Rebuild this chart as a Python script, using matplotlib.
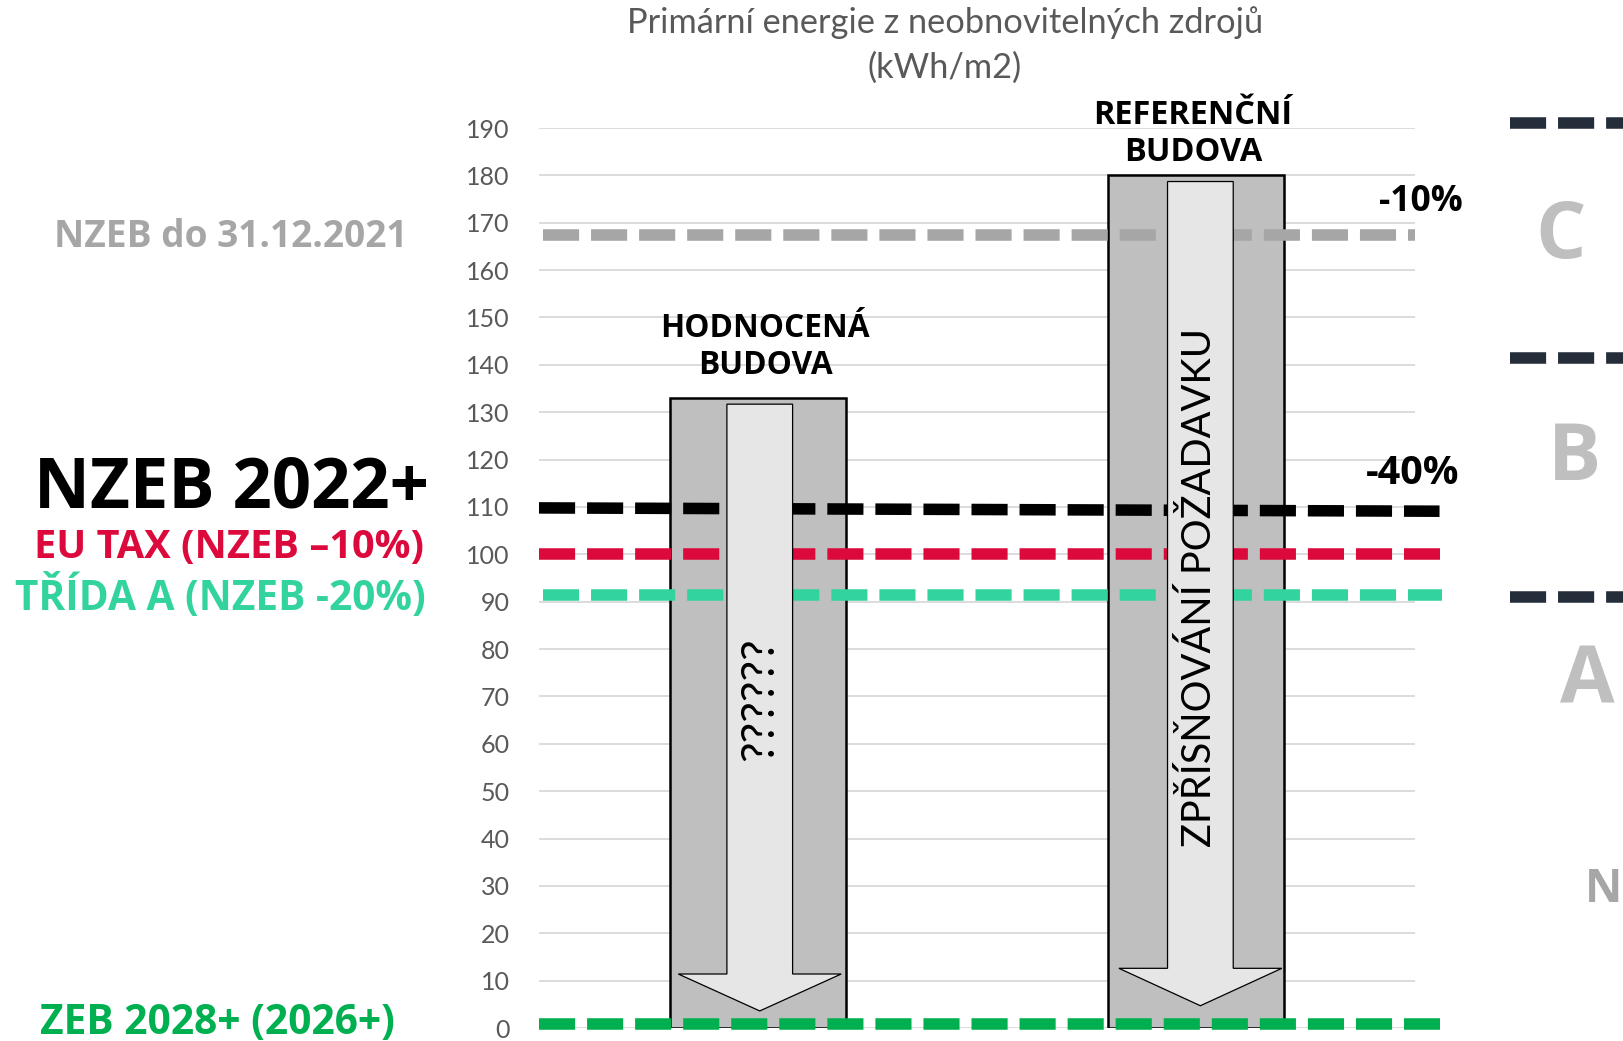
import matplotlib
matplotlib.use("Agg")
import matplotlib.pyplot as plt
from matplotlib.patches import Polygon

plt.rcParams['lines.scale_dashes'] = False

# values (kWh/m2)
budovy = ["HODNOCENÁ\nBUDOVA", "REFERENČNÍ\nBUDOVA"]
hodnoty = [133, 180]
yticks = list(range(0, 200, 10))

nzeb_2021 = 167.5
nzeb_2022 = [109.8, 109.1]   # the line is drawn slightly tilted
eu_tax = 100
trida_a = 91.5
zeb = 0.8
tridy = ["C", "B", "A"]
tridy_hranice = [191, 141.5, 91]

W, H = 1624, 1041
def px(x, y):
    return x / W, 1 - y / H

fig = plt.figure(figsize=(W / 100, H / 100), dpi=100)
ax = fig.add_axes([539 / W, 1 - 1028 / H, (1415 - 539) / W, (1028 - 128) / H])
ax.set_xlim(-0.5, 1.5)
ax.set_ylim(0, 190)
ax.set_yticks(yticks)
ax.set_xticks([])
for s in ax.spines.values():
    s.set_visible(False)
ax.tick_params(axis='y', length=0, pad=21, labelsize=18, labelcolor='#595959')
for lab in ax.get_yticklabels():
    lab.set_family('Lato')
ax.grid(axis='y', color='#d9d9d9', lw=1.3, zorder=0)
ax.set_axisbelow(True)

x = list(range(len(budovy)))
ax.bar(x, hodnoty, width=0.4, color='#bfbfbf', edgecolor='black', linewidth=1.8, zorder=2)

# limit lines
dash = (26, 8.6)
def hline(x0, x1, y, c):
    if not isinstance(y, list):
        y = [y, y]
    ax.plot([x0, x1], y, color=c, lw=8.3, dashes=dash, dash_capstyle='butt',
            clip_on=False, zorder=3)

hline(-0.49, 1.5, nzeb_2021, '#a6a6a6')
hline(-0.5, 1.556, nzeb_2022, '#000000')
hline(-0.5, 1.556, eu_tax, '#dc0a3c')
hline(-0.49, 1.562, trida_a, '#33d39f')
hline(-0.5, 1.556, zeb, '#00b050')
for y in tridy_hranice:
    hline(1.717, 2.05, y, '#252d3b')

# down arrows inside the bars
shaft, head = 0.075, 0.186
offs = [0.004, 0.01]
base = [11.4, 12.6]
tip = [3.6, 4.7]
for i, v in enumerate(hodnoty):
    c = x[i] + offs[i]
    top = v - 1.3
    pts = [(c - shaft, top), (c + shaft, top), (c + shaft, base[i]), (c + head, base[i]),
           (c, tip[i]), (c - head, base[i]), (c - shaft, base[i])]
    ax.add_patch(Polygon(pts, closed=True, fc='#e7e6e6', ec='black', lw=0.9, zorder=4))

fit = []
bold = dict(family='Open Sans', weight='bold')

t = ax.text(0.004, 69.4, "??????", rotation=90, ha='center', va='center',
            family='Lato', fontsize=30, color='black', zorder=5)
fit.append((t, 124))
t = ax.text(1.007, 93, "ZPŘÍSŇOVÁNÍ POŽADAVKU", rotation=90, ha='center', va='center',
            family='Lato', fontsize=30, color='black', zorder=5)
fit.append((t, 517))

t = ax.text(0.016, 143.8, budovy[0], ha='center', va='center', linespacing=1.15,
            fontsize=17, color='black', clip_on=False, **bold)
fit.append((t, 209))
t = ax.text(0.993, 188.8, budovy[1], ha='center', va='center', linespacing=1.15,
            fontsize=17, color='black', clip_on=False, **bold)
fit.append((t, 200))
t = ax.text(1.513, 174.4, "-10%", ha='center', va='center', fontsize=25,
            color='black', clip_on=False, **bold)
fit.append((t, 84))
t = ax.text(1.495, 117.0, "-40%", ha='center', va='center', fontsize=25,
            color='black', clip_on=False, **bold)
fit.append((t, 94))

# title
t1 = fig.text(*px(945, 23), "Primární energie z neobnovitelných zdrojů", ha='center',
              va='center', family='Lato', fontsize=21, color='#595959')
fit.append((t1, 636))
t2 = fig.text(*px(945, 68), "(kWh/m2)", ha='center', va='center', family='Lato',
              fontsize=21, color='#595959')

# left labels
left = [("NZEB do 31.12.2021", 230.4, 237, '#a6a6a6', 354),
        ("NZEB 2022+", 232, 489, '#000000', 396),
        ("EU TAX (NZEB –10%)", 229.3, 548, '#dc0a3c', 390),
        ("TŘÍDA A (NZEB -20%)", 220, 597, '#33d39f', 411),
        ("ZEB 2028+ (2026+)", 217.5, 1023, '#00b050', 356)]
for txt, cx, cy, c, w in left:
    t = fig.text(*px(cx, cy), txt, ha='center', va='center', fontsize=27, color=c, **bold)
    fit.append((t, w))

# energy class letters on the right
for txt, cx, cy in zip(tridy, [1561, 1574, 1587], [238, 460, 682]):
    fig.text(*px(cx, cy), txt, ha='center', va='center', fontsize=57,
             color='#bfbfbf', **bold)
fig.text(*px(1622, 889), "N", ha='right', va='center', fontsize=33,
         color='#a6a6a6', **bold)

fig.canvas.draw()
r = fig.canvas.get_renderer()
for t, w in fit:
    bb = t.get_window_extent(r)
    t.set_fontsize(t.get_fontsize() * w / max(bb.width, bb.height))
t2.set_fontsize(t1.get_fontsize())

fig.savefig('out.png', dpi=100)
